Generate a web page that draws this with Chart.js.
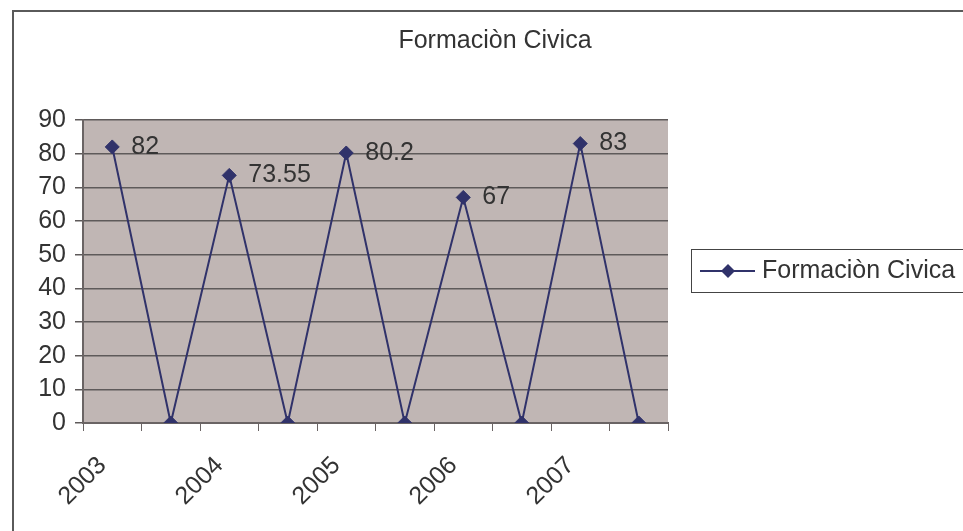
<!DOCTYPE html>
<html lang="es">
<head>
    <meta charset="UTF-8">
    <title>Formaciòn Civica</title>
    <style>
        html, body { margin: 0; padding: 0; background: #fff; }
        #wrap { width: 963px; height: 531px; position: relative; }
    </style>
</head>
<body>
    <div id="wrap">
        <canvas id="myChart"></canvas>
    </div>

    <script src="https://cdn.jsdelivr.net/npm/chart.js@4/dist/chart.umd.min.js"></script>
    <script>
    // data
    var titulo = 'Formaciòn Civica';
    var anos = ['2003', '', '2004', '', '2005', '', '2006', '', '2007', ''];
    var valores = [82, 0, 73.55, 0, 80.2, 0, 67, 0, 83, 0];
    var yTicks = [0, 10, 20, 30, 40, 50, 60, 70, 80, 90];

    var FONT = '"Liberation Sans", Arial, sans-serif';
    var FSIZE = 25;
    var lineColor = '#30326a';
    var textColor = '#333333';

    // frame, title, plot background, point labels and legend
    var excelLook = {
        id: 'excelLook',
        beforeDraw: (chart) => {
            const c = chart.ctx;
            const a = chart.chartArea;
            c.save();
            c.strokeStyle = '#5a5a5a';
            c.lineWidth = 2;
            c.beginPath();
            c.moveTo(13, 531);
            c.lineTo(13, 11);
            c.lineTo(963, 11);
            c.stroke();
            c.fillStyle = '#c0b6b4';
            c.fillRect(a.left, a.top, a.right - a.left, a.bottom - a.top);
            c.fillStyle = textColor;
            c.font = FSIZE + 'px ' + FONT;
            c.textAlign = 'center';
            c.textBaseline = 'middle';
            c.fillText(titulo, 495, 41);
            c.restore();
        },
        afterDatasetsDraw: (chart) => {
            const c = chart.ctx;
            const meta = chart.getDatasetMeta(0);
            c.save();
            c.fillStyle = textColor;
            c.font = FSIZE + 'px ' + FONT;
            c.textAlign = 'left';
            c.textBaseline = 'middle';
            meta.data.forEach((p, i) => {
                if (valores[i] > 0) c.fillText(String(valores[i]), p.x + 19, p.y);
            });

            // legend
            c.strokeStyle = '#444';
            c.lineWidth = 1;
            c.strokeRect(691.5, 249.5, 290, 43);
            c.strokeStyle = lineColor;
            c.lineWidth = 2;
            c.beginPath();
            c.moveTo(700, 271);
            c.lineTo(755, 271);
            c.stroke();
            c.fillStyle = lineColor;
            c.beginPath();
            c.moveTo(728, 264);
            c.lineTo(735, 271);
            c.lineTo(728, 278);
            c.lineTo(721, 271);
            c.closePath();
            c.fill();
            c.fillStyle = textColor;
            c.fillText(titulo, 762, 271);
            c.restore();
        }
    };

    var ctx = document.getElementById('myChart');
    var myChart = new Chart(ctx, {
        type: 'line',
        data: {
            labels: anos,
            datasets: [{
                label: titulo,
                data: valores,
                borderColor: lineColor,
                backgroundColor: lineColor,
                borderWidth: 2,
                pointStyle: 'rectRot',
                pointRadius: 7,
                pointBorderWidth: 1,
                tension: 0
            }]
        },
        options: {
            responsive: true,
            maintainAspectRatio: false,
            animation: false,
            layout: { padding: { top: 120, right: 295, left: 0, bottom: 0 } },
            plugins: {
                legend: { display: false },
                title: { display: false },
                tooltip: { enabled: false }
            },
            scales: {
                x: {
                    offset: true,
                    afterFit: (s) => { s.height = 108; },
                    grid: {
                        offset: true,
                        drawOnChartArea: false,
                        drawTicks: true,
                        tickLength: 8,
                        color: '#6a6464'
                    },
                    border: { color: '#6a6464', width: 2 },
                    ticks: {
                        autoSkip: false,
                        maxRotation: 45,
                        minRotation: 45,
                        padding: 10,
                        color: textColor,
                        font: { family: FONT, size: FSIZE },
                        // trailing spaces pull the rotated label left of the tick like Excel does
                        callback: (v, i) => anos[i] ? anos[i] + '  ' : ''
                    }
                },
                y: {
                    min: 0,
                    max: 90,
                    afterFit: (s) => { s.width = 83; },
                    afterBuildTicks: (s) => { s.ticks = yTicks.map(v => ({ value: v })); },
                    grid: {
                        color: '#5e5a5a',
                        lineWidth: 1.5,
                        tickLength: 8
                    },
                    border: { color: '#6a6464', width: 2 },
                    ticks: {
                        padding: 9,
                        color: textColor,
                        font: { family: FONT, size: FSIZE }
                    }
                }
            }
        },
        plugins: [excelLook]
    });
    </script>
</body>
</html>
